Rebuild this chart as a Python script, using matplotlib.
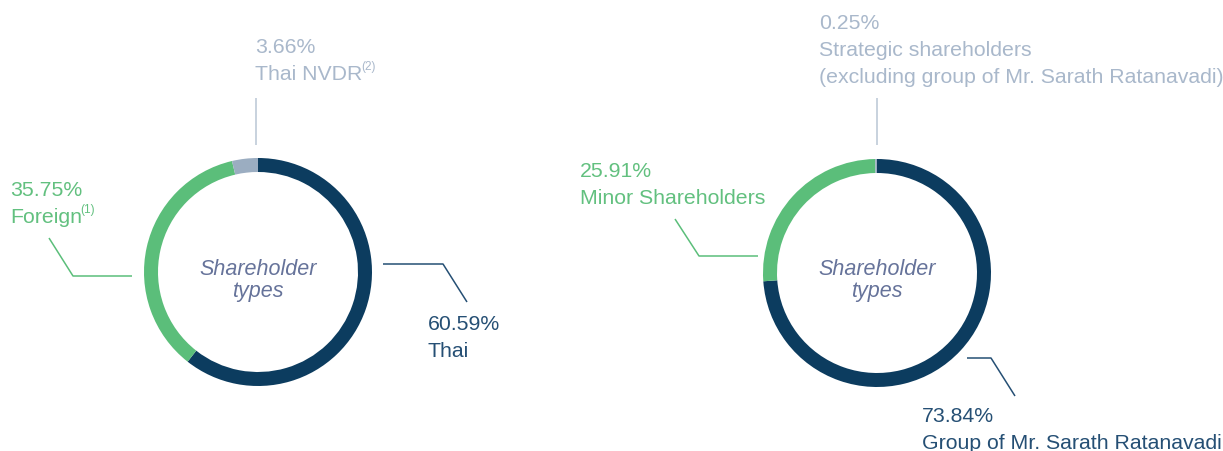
import matplotlib.pyplot as plt

# shareholder structure, left: by nationality, right: by group
left_labels = ["Thai", "Foreign", "Thai NVDR"]
left_values = [60.59, 35.75, 3.66]
right_labels = ["Group of Mr. Sarath Ratanavadi", "Minor Shareholders",
                "Strategic shareholders\n(excluding group of Mr. Sarath Ratanavadi)"]
right_values = [73.84, 25.91, 0.25]

NAVY = "#0c3c5f"
GREEN = "#5bbe7a"
GREY = "#9badc1"
GREY_TXT = "#a9b8cb"
NAVY_TXT = "#254f74"
GREEN_TXT = "#62c07f"
CENTER_TXT = "#66739a"
colors = [NAVY, GREEN, GREY]
txt_colors = [NAVY_TXT, GREEN_TXT, GREY_TXT]

plt.rcParams['font.family'] = ['Liberation Sans', 'DejaVu Sans']

fig = plt.figure(figsize=(12.23, 4.51), dpi=100)
ax = fig.add_axes([0, 0, 1, 1])
sups = []


def donut(cx, cy, values):
    # y axis points down, so counterclock=True draws clockwise on screen
    ax.pie(values, colors=colors, center=(cx, cy), radius=114,
           startangle=-90, counterclock=True,
           wedgeprops=dict(width=14, linewidth=0))
    ax.text(cx, 275, "Shareholder", ha='center', va='baseline', fontsize=15.5,
            style='italic', color=CENTER_TXT)
    ax.text(cx, 297, "types", ha='center', va='baseline', fontsize=15.5,
            style='italic', color=CENTER_TXT)


def label(x, y, value, name, color, sup=None):
    ax.text(x, y, f"{value:.2f}%", ha='left', va='baseline', fontsize=15.3,
            color=color)
    lines = name.split("\n")
    for i, ln in enumerate(lines):
        t = ax.text(x, y + 27 * (i + 1), ln, ha='left', va='baseline', fontsize=15.3,
                    color=color)
    if sup:
        sups.append((t, y + 27 * len(lines) - 10, sup, color))


def leader(xs, ys, color):
    ax.plot(xs, ys, color=color, lw=1.1, solid_capstyle='butt')


# left donut
donut(258, 272, left_values)
label(428, 330, left_values[0], left_labels[0], txt_colors[0])
label(10, 196, left_values[1], left_labels[1], txt_colors[1], sup="(1)")
label(255, 53, left_values[2], left_labels[2], txt_colors[2], sup="(2)")
leader([383, 443, 467], [264, 264, 302], NAVY_TXT)
leader([49, 73, 132], [238, 276, 276], GREEN)
leader([256, 256], [98, 145], "#b9c6d4")

# right donut
donut(877, 273, right_values)
label(922, 422, right_values[0], right_labels[0], txt_colors[0])
label(580, 177, right_values[1], right_labels[1], txt_colors[1])
label(819, 29, right_values[2], right_labels[2], txt_colors[2])
leader([967, 991, 1015], [358, 358, 396], NAVY_TXT)
leader([675, 699, 758], [219, 256, 256], GREEN)
leader([877, 877], [98, 145], "#b9c6d4")

ax.set_xlim(0, 1223)
ax.set_ylim(451, 0)
ax.set_aspect('equal')
ax.axis('off')

# superscript footnote marks right after their label
fig.canvas.draw()
r = fig.canvas.get_renderer()
for t, yb, s, c in sups:
    x1 = t.get_window_extent(r).x1
    xd = ax.transData.inverted().transform((x1, 0))[0]
    ax.text(xd - 1.5, yb, s, ha='left', va='baseline', fontsize=8.5, color=c)

fig.savefig("out.png", dpi=100, facecolor="white")
